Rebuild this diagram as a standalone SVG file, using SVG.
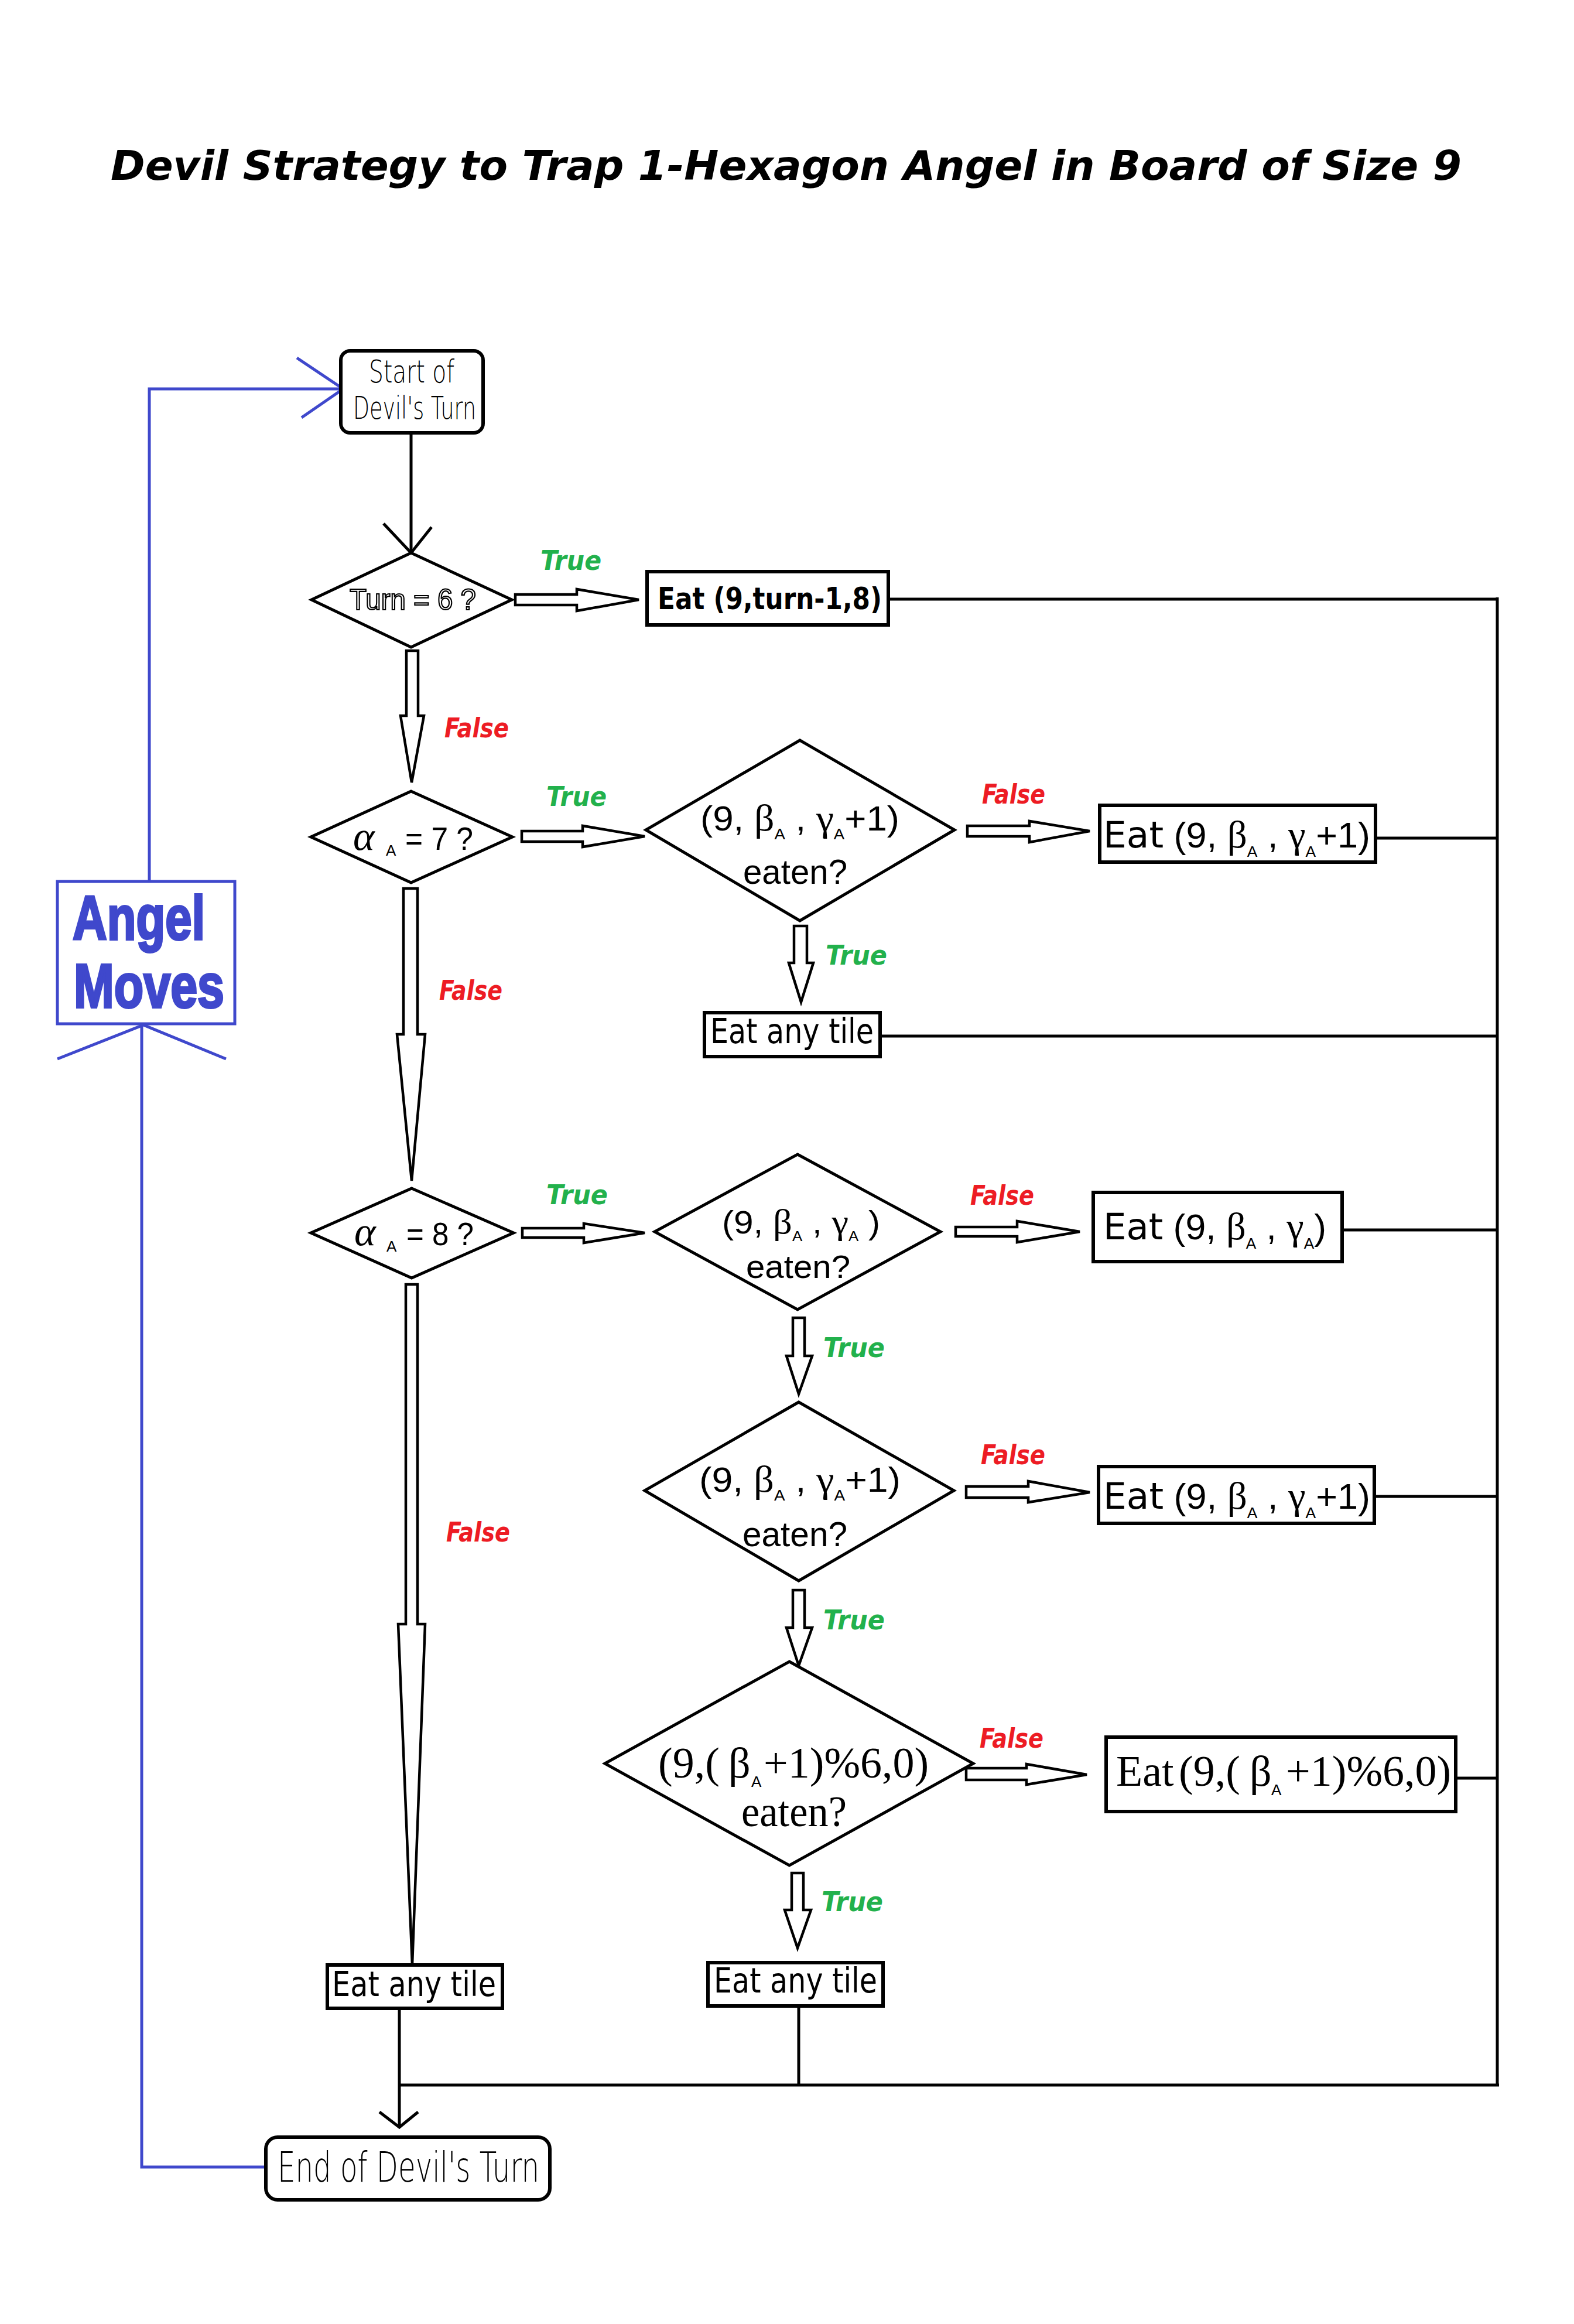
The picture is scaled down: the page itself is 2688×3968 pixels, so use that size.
<svg xmlns="http://www.w3.org/2000/svg" width="2688" height="3968" viewBox="0 0 2688 3968">
<style>
.bx{fill:#fff;stroke:#000;stroke-width:6}
.dm{fill:#fff;stroke:#000;stroke-width:5;stroke-linejoin:miter}
.ln{fill:none;stroke:#000;stroke-width:5}
.bl{fill:none;stroke:#3f48cc;stroke-width:5}
.ha{fill:#fff;stroke:#000;stroke-width:4.5;stroke-linejoin:miter}
.tr{fill:#22b14c;font-family:"DejaVu Sans Condensed","DejaVu Sans",sans-serif;font-style:italic;font-weight:bold;font-size:47px}
.fa{fill:#ed1c24;font-family:"DejaVu Sans Condensed","DejaVu Sans",sans-serif;font-style:italic;font-weight:bold;font-size:47px}
.thin{font-family:"DejaVu Sans",sans-serif;font-weight:200;fill:#000}
.comic{font-family:"DejaVu Sans",sans-serif;fill:#000}
.ar{font-family:"Liberation Sans",Arial,sans-serif;fill:#000}
.sr{font-family:"Liberation Serif","Times New Roman",serif;fill:#000}
</style>

<text x="189" y="307" font-family="DejaVu Sans, sans-serif" font-style="italic" font-weight="bold" font-size="70" textLength="2307" lengthAdjust="spacingAndGlyphs">Devil Strategy to Trap 1-Hexagon Angel in Board of Size 9</text>

<g id="connectors">
  <line class="ln" x1="702" y1="739" x2="702" y2="944"/>
  <polyline class="ln" points="655,894 702,944 737,900"/>
  <line class="ln" x1="1517" y1="1023" x2="2557" y2="1023"/>
  <line class="ln" x1="2557" y1="1020" x2="2557" y2="3562"/>
  <line class="ln" x1="2349" y1="1431" x2="2557" y2="1431"/>
  <line class="ln" x1="1503" y1="1769" x2="2557" y2="1769"/>
  <line class="ln" x1="2292" y1="2100" x2="2557" y2="2100"/>
  <line class="ln" x1="2347" y1="2555" x2="2557" y2="2555"/>
  <line class="ln" x1="2486" y1="3036" x2="2557" y2="3036"/>
  <line class="ln" x1="680" y1="3560" x2="2560" y2="3560"/>
  <line class="ln" x1="1364" y1="3425" x2="1364" y2="3560"/>
  <line class="ln" x1="682" y1="3429" x2="682" y2="3632"/>
  <polyline class="ln" points="648,3606 682,3632 714,3606"/>
  <polyline class="bl" points="454,3700 242,3700 242,1750"/>
  <polyline class="bl" points="98,1808 245,1750 386,1808"/>
  <polyline class="bl" points="255,1505 255,664 586,664"/>
  <polyline class="bl" points="507,611 586,664 515,713"/>

  <polygon class="ha" points="880,1015 985,1015 985,1006 1091,1024 985,1043 985,1033 880,1033"/>
  <polygon class="ha" points="694,1111 714,1111 714,1222 724,1222 703,1336 684,1222 694,1222"/>
  <polygon class="ha" points="891,1419 995,1419 995,1410 1101,1428 995,1446 995,1437 891,1437"/>
  <polygon class="ha" points="689,1517 713,1517 713,1766 726,1766 703,2016 678,1766 689,1766"/>
  <polygon class="ha" points="1652,1410 1758,1410 1758,1402 1861,1419 1758,1438 1758,1428 1652,1428"/>
  <polygon class="ha" points="1356,1581 1378,1581 1378,1644 1389,1644 1368,1711 1347,1644 1356,1644"/>
  <polygon class="ha" points="892,2097 997,2097 997,2089 1101,2105 997,2122 997,2113 892,2113"/>
  <polygon class="ha" points="693,2193 713,2193 713,2773 726,2773 704,3355 680,2773 693,2773"/>
  <polygon class="ha" points="1632,2095 1737,2095 1737,2085 1844,2103 1737,2121 1737,2111 1632,2111"/>
  <polygon class="ha" points="1354,2250 1374,2250 1374,2315 1387,2315 1364,2380 1343,2315 1354,2315"/>
  <polygon class="ha" points="1650,2538 1756,2538 1756,2529 1861,2548 1756,2565 1756,2557 1650,2557"/>
  <polygon class="ha" points="1354,2715 1374,2715 1374,2779 1387,2779 1364,2844 1343,2779 1354,2779"/>
  <polygon class="ha" points="1650,3019 1753,3019 1753,3012 1856,3030 1753,3047 1753,3039 1650,3039"/>
  <polygon class="ha" points="1352,3198 1372,3198 1372,3261 1385,3261 1362,3326 1340,3261 1352,3261"/>

  <text class="tr" x="923" y="973" textLength="104" lengthAdjust="spacingAndGlyphs">True</text>
  <text class="fa" x="759" y="1259" textLength="110" lengthAdjust="spacingAndGlyphs">False</text>
  <text class="tr" x="933" y="1376" textLength="103" lengthAdjust="spacingAndGlyphs">True</text>
  <text class="fa" x="1677" y="1372" textLength="108" lengthAdjust="spacingAndGlyphs">False</text>
  <text class="tr" x="1410" y="1647" textLength="105" lengthAdjust="spacingAndGlyphs">True</text>
  <text class="fa" x="750" y="1707" textLength="108" lengthAdjust="spacingAndGlyphs">False</text>
  <text class="tr" x="933" y="2056" textLength="105" lengthAdjust="spacingAndGlyphs">True</text>
  <text class="fa" x="1657" y="2057" textLength="109" lengthAdjust="spacingAndGlyphs">False</text>
  <text class="tr" x="1406" y="2317" textLength="105" lengthAdjust="spacingAndGlyphs">True</text>
  <text class="fa" x="1675" y="2500" textLength="110" lengthAdjust="spacingAndGlyphs">False</text>
  <text class="tr" x="1406" y="2782" textLength="105" lengthAdjust="spacingAndGlyphs">True</text>
  <text class="fa" x="762" y="2632" textLength="109" lengthAdjust="spacingAndGlyphs">False</text>
  <text class="fa" x="1673" y="2984" textLength="109" lengthAdjust="spacingAndGlyphs">False</text>
  <text class="tr" x="1403" y="3263" textLength="105" lengthAdjust="spacingAndGlyphs">True</text>
</g>

<g id="start">
  <rect class="bx" x="582" y="599" width="243" height="140" rx="16"/>
  <text class="thin" x="630" y="653" font-size="54" textLength="146" lengthAdjust="spacingAndGlyphs">Start of</text>
  <text class="thin" x="603" y="715" font-size="54" textLength="210" lengthAdjust="spacingAndGlyphs">Devil's Turn</text>
</g>

<g id="d-turn">
  <polygon class="dm" points="702,944 874,1024 702,1105 532,1024"/>
  <text x="597" y="1041" font-family="Liberation Sans, Arial, sans-serif" font-size="50" fill="#fff" stroke="#000" stroke-width="2.2" textLength="216" lengthAdjust="spacingAndGlyphs">Turn = 6 ?</text>
</g>

<g id="eat1">
  <rect class="bx" x="1105" y="976" width="412" height="91"/>
  <text class="comic" x="1123" y="1040" font-size="52" font-weight="bold" textLength="383" lengthAdjust="spacingAndGlyphs">Eat (9,turn-1,8)</text>
</g>

<g id="d-a7">
  <polygon class="dm" points="702,1351 875,1429 702,1507 531,1429"/>
  <text class="sr" x="603" y="1451" font-size="70" font-style="italic">α</text>
  <text class="ar" x="659" y="1461" font-size="26">A</text>
  <text class="ar" x="692" y="1451" font-size="56" textLength="116" lengthAdjust="spacingAndGlyphs">= 7 ?</text>
</g>

<g id="d-c1">
  <polygon class="dm" points="1366,1264 1630,1417 1366,1572 1103,1417"/>
  <text class="ar" x="1196" y="1418" font-size="60" textLength="340" lengthAdjust="spacingAndGlyphs">(9, <tspan class="sr" font-size="64">β</tspan><tspan font-size="26" dy="15">A</tspan><tspan dy="-15"> , </tspan><tspan class="sr" font-size="64">γ</tspan><tspan font-size="26" dy="15">A</tspan><tspan dy="-15">+1)</tspan></text>
  <text class="ar" x="1269" y="1509" font-size="60" textLength="178" lengthAdjust="spacingAndGlyphs">eaten?</text>
</g>

<g id="eat2">
  <rect class="bx" x="1878" y="1375" width="471" height="97"/>
  <text class="ar" x="1884" y="1447" font-size="62" textLength="456" lengthAdjust="spacingAndGlyphs"><tspan class="comic">Eat</tspan>  (9, <tspan class="sr" font-size="66">β</tspan><tspan font-size="26" dy="16">A</tspan><tspan dy="-16"> , </tspan><tspan class="sr" font-size="66">γ</tspan><tspan font-size="26" dy="16">A</tspan><tspan dy="-16">+1)</tspan></text>
</g>

<g id="eatany1">
  <rect class="bx" x="1203" y="1729" width="300" height="75"/>
  <text class="comic" x="1213" y="1781" font-size="58" textLength="279" lengthAdjust="spacingAndGlyphs">Eat any tile</text>
</g>

<g id="angel">
  <rect x="98" y="1505" width="303" height="243" fill="#fff" stroke="#3f48cc" stroke-width="5"/>
  <text x="124" y="1604" font-family="Liberation Sans, Arial, sans-serif" font-weight="bold" font-size="106" fill="#3f48cc" stroke="#3f48cc" stroke-width="4" textLength="226" lengthAdjust="spacingAndGlyphs">Angel</text>
  <text x="126" y="1720" font-family="Liberation Sans, Arial, sans-serif" font-weight="bold" font-size="106" fill="#3f48cc" stroke="#3f48cc" stroke-width="4" textLength="257" lengthAdjust="spacingAndGlyphs">Moves</text>
</g>

<g id="d-a8">
  <polygon class="dm" points="703,2029 877,2105 703,2182 531,2105"/>
  <text class="sr" x="605" y="2126" font-size="70" font-style="italic">α</text>
  <text class="ar" x="660" y="2137" font-size="26">A</text>
  <text class="ar" x="694" y="2126" font-size="56" textLength="115" lengthAdjust="spacingAndGlyphs">= 8 ?</text>
</g>

<g id="d-c2">
  <polygon class="dm" points="1362,1971 1606,2103 1362,2236 1118,2103"/>
  <text class="ar" x="1233" y="2106" font-size="56" textLength="270" lengthAdjust="spacingAndGlyphs">(9, <tspan class="sr" font-size="60">β</tspan><tspan font-size="24" dy="13">A</tspan><tspan dy="-13"> , </tspan><tspan class="sr" font-size="60">γ</tspan><tspan font-size="24" dy="13">A</tspan><tspan dy="-13"> )</tspan></text>
  <text class="ar" x="1274" y="2182" font-size="56" textLength="178" lengthAdjust="spacingAndGlyphs">eaten?</text>
</g>

<g id="eat3">
  <rect class="bx" x="1867" y="2036" width="425" height="118"/>
  <text class="ar" x="1884" y="2116" font-size="62" textLength="381" lengthAdjust="spacingAndGlyphs"><tspan class="comic">Eat</tspan>  (9, <tspan class="sr" font-size="66">β</tspan><tspan font-size="26" dy="16">A</tspan><tspan dy="-16"> , </tspan><tspan class="sr" font-size="66">γ</tspan><tspan font-size="26" dy="16">A</tspan><tspan dy="-16">)</tspan></text>
</g>

<g id="d-c3">
  <polygon class="dm" points="1364,2394 1629,2545 1364,2699 1101,2545"/>
  <text class="ar" x="1194" y="2547" font-size="60" textLength="344" lengthAdjust="spacingAndGlyphs">(9, <tspan class="sr" font-size="64">β</tspan><tspan font-size="26" dy="15">A</tspan><tspan dy="-15"> , </tspan><tspan class="sr" font-size="64">γ</tspan><tspan font-size="26" dy="15">A</tspan><tspan dy="-15">+1)</tspan></text>
  <text class="ar" x="1268" y="2640" font-size="60" textLength="179" lengthAdjust="spacingAndGlyphs">eaten?</text>
</g>

<g id="eat4">
  <rect class="bx" x="1876" y="2504" width="471" height="97"/>
  <text class="ar" x="1884" y="2576" font-size="62" textLength="456" lengthAdjust="spacingAndGlyphs"><tspan class="comic">Eat</tspan>  (9, <tspan class="sr" font-size="66">β</tspan><tspan font-size="26" dy="16">A</tspan><tspan dy="-16"> , </tspan><tspan class="sr" font-size="66">γ</tspan><tspan font-size="26" dy="16">A</tspan><tspan dy="-16">+1)</tspan></text>
</g>

<g id="d-c4">
  <polygon class="dm" points="1348,2837 1662,3011 1348,3185 1033,3011"/>
  <text class="sr" y="3035" font-size="74"><tspan x="1124">(9,(</tspan><tspan x="1244">β</tspan><tspan class="ar" x="1283" font-size="26" dy="16">A</tspan><tspan x="1304" dy="-16">+1)%6,0)</tspan></text>
  <text class="sr" x="1266" y="3118" font-size="74" textLength="180" lengthAdjust="spacingAndGlyphs">eaten?</text>
</g>

<g id="eat5">
  <rect class="bx" x="1889" y="2966" width="597" height="127"/>
  <text class="sr" y="3049" font-size="74"><tspan x="1906">Eat</tspan><tspan x="2013">(9,(</tspan><tspan x="2134">β</tspan><tspan class="ar" x="2171" font-size="26" dy="16">A</tspan><tspan x="2196" dy="-16">+1)%6,0)</tspan></text>
</g>

<g id="eatany2">
  <rect class="bx" x="559" y="3355" width="299" height="74"/>
  <text class="comic" x="567" y="3408" font-size="58" textLength="280" lengthAdjust="spacingAndGlyphs">Eat any tile</text>
</g>

<g id="eatany3">
  <rect class="bx" x="1209" y="3351" width="299" height="74"/>
  <text class="comic" x="1219" y="3402" font-size="58" textLength="279" lengthAdjust="spacingAndGlyphs">Eat any tile</text>
</g>

<g id="end">
  <rect class="bx" x="454" y="3649" width="485" height="107" rx="20"/>
  <text class="thin" x="474" y="3725" font-size="72" textLength="447" lengthAdjust="spacingAndGlyphs">End of Devil's Turn</text>
</g>
</svg>
